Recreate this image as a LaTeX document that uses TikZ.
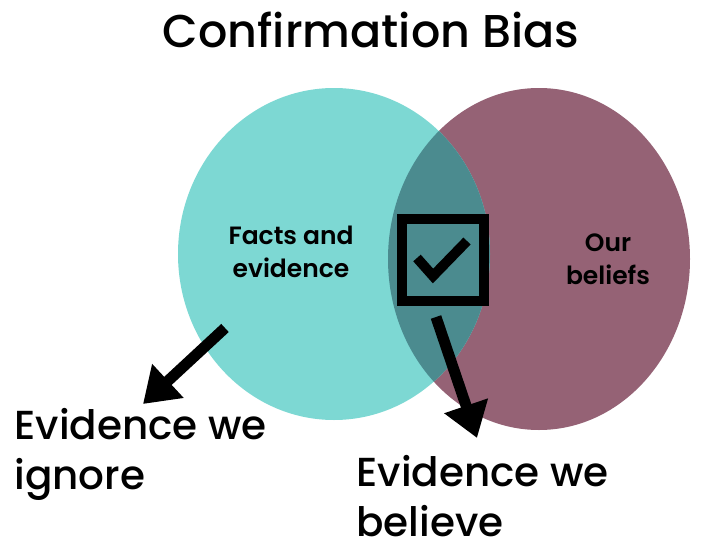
\documentclass[tikz,border=0pt]{standalone}
\usepackage{fontspec}
\setmainfont{Poppins}
\newfontfamily\medfont{Poppins Medium}
\newfontfamily\semifont{Poppins SemiBold}
\usepackage{xcolor}
\usetikzlibrary{arrows.meta,shapes.geometric}
\definecolor{BiasTeal}{HTML}{7DD8D3}
\definecolor{BiasPlum}{HTML}{956275}
\definecolor{BiasMix}{HTML}{4B8B8F}

\begin{document}
\begin{tikzpicture}[
  x=1pt, y=-1pt,
  blob/.style={ellipse, draw=none, fill=#1, inner sep=0pt},
  lbl/.style={align=center, font=\semifont\fontsize{25}{33}\selectfont},
  big/.style={align=left, anchor=west, font=\medfont\fontsize{40.5}{50}\selectfont},
  arrow/.style={-{Triangle[length=34pt,width=44pt]}, line width=11pt, black}
]
\useasboundingbox (0,0) rectangle (726,557);

\node[blob=BiasPlum, minimum width=302pt, minimum height=342pt] (beliefset) at (539,259) {};
\node[blob=BiasTeal, minimum width=312pt, minimum height=332pt] (factset) at (334,254) {};
% overlap of the two sets
\begin{scope}
  \clip (334,254) ellipse [x radius=156pt, y radius=166pt];
  \fill[BiasMix] (539,259) ellipse [x radius=151pt, y radius=171pt];
\end{scope}

\node[font=\medfont\fontsize{46}{50}\selectfont] (title) at (371,30) {Confirmation Bias};
\node[lbl] (facts) at (291,252) {Facts and\\evidence};
\node[lbl] (ours) at (608,259) {Our\\beliefs};

\node[draw, line width=10pt, minimum size=82pt, inner sep=0pt] (check) at (443,260) {};
\draw[line width=10pt] (417,258) -- (433,276) -- (467,241);

\node[big] (ignore) at (11,454) {Evidence we\\ignore};
\node[big] (believe) at (353,496) {Evidence we\\believe};

\coordinate (ignorestart) at (225,328);
\coordinate (ignoretip) at (143,404);
\coordinate (believestart) at (436,317);
\coordinate (believetip) at (477,438);
\draw[arrow] (ignorestart) -- (ignoretip);
\draw[arrow] (believestart) -- (believetip);
\end{tikzpicture}
\end{document}
